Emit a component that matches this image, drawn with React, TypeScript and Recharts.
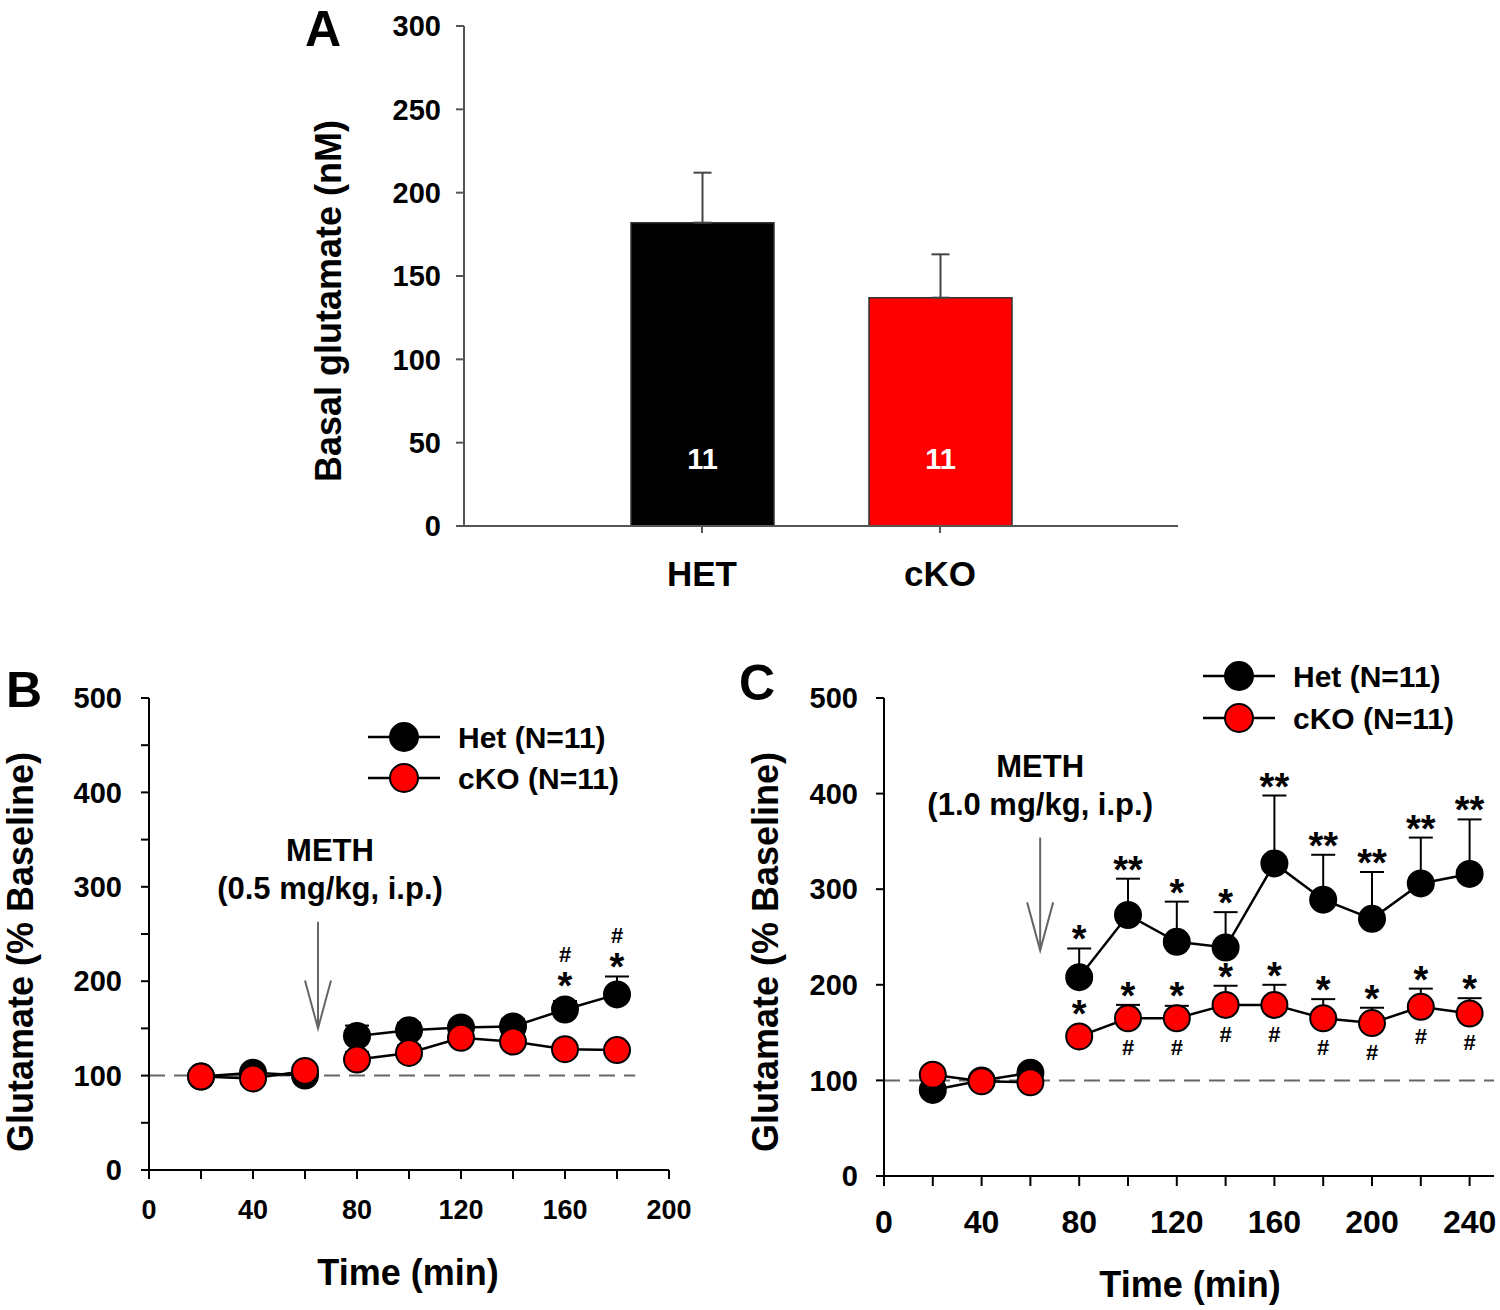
import React from 'react';
import {
  ComposedChart,
  Bar,
  Cell,
  Line,
  XAxis,
  YAxis,
  ErrorBar,
  LabelList,
  Label,
  ReferenceLine,
  ReferenceDot,
} from 'recharts';

const FONT = '"Liberation Sans", Arial, Helvetica, sans-serif';

// ---- panel A: basal glutamate ----
const groups = ['HET', 'cKO'];
const basalMean = [182, 137];
const basalSem = [30, 26];
const basalN = ['11', '11'];
const groupFill = ['#000000', '#ff0000'];
const yTicksA = [0, 50, 100, 150, 200, 250, 300];

// ---- panel B: 0.5 mg/kg METH ----
const timeB = [20, 40, 60, 80, 100, 120, 140, 160, 180];
const hetB = [99, 103, 100, 142, 148, 151, 152, 170, 186];
const hetSemB = [4, 5, 5, 11, 8, 7, 8, 9, 19];
const hetStarB = ['', '', '', '', '', '', '', '*', '*'];
const hetHashB = ['', '', '', '', '', '', '', '#', '#'];
const ckoB = [99, 97, 105, 117, 124, 140, 136, 128, 127];
const ckoSemB = [4, 4, 5, 8, 8, 9, 8, 7, 7];
const xTicksB = [0, 20, 40, 60, 80, 100, 120, 140, 160, 180, 200];
const yTicksB = [0, 50, 100, 150, 200, 250, 300, 350, 400, 450, 500];

// ---- panel C: 1.0 mg/kg METH ----
const timeC = [20, 40, 60, 80, 100, 120, 140, 160, 180, 200, 220, 240];
const hetC = [90, 100, 108, 208, 273, 245, 239, 327, 289, 269, 306, 316];
const hetSemC = [5, 5, 5, 30, 38, 42, 37, 71, 47, 49, 48, 57];
const hetStarC = ['', '', '', '*', '**', '*', '*', '**', '**', '**', '**', '**'];
const ckoC = [106, 99, 98, 146, 165, 165, 179, 179, 165, 160, 177, 170];
const ckoSemC = [4, 4, 4, 6, 14, 13, 20, 21, 20, 16, 19, 16];
const ckoStarC = ['', '', '', '*', '*', '*', '*', '*', '*', '*', '*', '*'];
const ckoHashC = ['', '', '', '', '#', '#', '#', '#', '#', '#', '#', '#'];
const xTicksC = [0, 20, 40, 60, 80, 100, 120, 140, 160, 180, 200, 220, 240];
const yTicksC = [0, 100, 200, 300, 400, 500];

const seriesNames = ['Het (N=11)', 'cKO (N=11)'];
const seriesFill = ['#000000', '#ff0000'];
const methTime = [65, 64];
const methDose = ['(0.5 mg/kg, i.p.)', '(1.0 mg/kg, i.p.)'];
const arrowTop = [263, 354];
const arrowTip = [150, 236];
const baseline = 100;

type Row = { t: number; mean: number; sem: number; star: string; hash: string };

const none = (n: number) => Array.from({ length: n }, () => '');

const buildRows = (
  time: number[],
  mean: number[],
  sem: number[],
  star: string[],
  hash: string[]
): Row[] => time.map((t, i) => ({ t, mean: mean[i], sem: sem[i], star: star[i], hash: hash[i] }));

const basalRows = groups.map((g, i) => ({
  slot: i + 1,
  mean: basalMean[i],
  semRange: [0, basalSem[i]],
  n: basalN[i],
}));

const rowsHetB = buildRows(timeB, hetB, hetSemB, hetStarB, hetHashB);
const rowsCkoB = buildRows(timeB, ckoB, ckoSemB, none(timeB.length), none(timeB.length));
const rowsHetC = buildRows(timeC, hetC, hetSemC, hetStarC, none(timeC.length));
const rowsCkoC = buildRows(timeC, ckoC, ckoSemC, ckoStarC, ckoHashC);

const bold = { fontWeight: 'bold' as const, fontFamily: FONT, fill: '#000' };

const pointXY = (p: any) => {
  const vb = p.viewBox || {};
  const x = typeof p.x === 'number' ? p.x : vb.x + (vb.width || 0) / 2;
  const y = typeof p.y === 'number' ? p.y : vb.y;
  return { x, y };
};

const StarLabel = (p: any) => {
  if (!p.value) return null;
  const { x, y } = pointXY(p);
  return (
    <text x={x} y={y + 4} textAnchor="middle" fontSize={38} {...bold}>
      {p.value}
    </text>
  );
};

const HashAbove = (p: any) => {
  if (!p.value) return null;
  const { x, y } = pointXY(p);
  return (
    <text x={x} y={y - 33} textAnchor="middle" fontSize={22} {...bold}>
      {p.value}
    </text>
  );
};

const HashBelow = (p: any) => {
  if (!p.value) return null;
  const { x, y } = pointXY(p);
  return (
    <text x={x} y={y + 37} textAnchor="middle" fontSize={22} {...bold}>
      {p.value}
    </text>
  );
};

const NLabel = (p: any) => {
  const vb = p.viewBox || p;
  return (
    <text
      x={vb.x + vb.width / 2}
      y={vb.y + vb.height - 67}
      textAnchor="middle"
      dominantBaseline="central"
      fontSize={29}
      fontWeight="bold"
      fontFamily={FONT}
      fill="#fff"
    >
      {p.value}
    </text>
  );
};

const Title = ({ x, y, text, size, rotate }: { x: number; y: number; text: string; size: number; rotate?: boolean }) => (
  <text
    x={x}
    y={y}
    transform={rotate ? `rotate(-90 ${x} ${y})` : undefined}
    textAnchor="middle"
    dominantBaseline="central"
    fontSize={size}
    {...bold}
  >
    {text}
  </text>
);

const SeriesKey = ({ x, y, gap }: { x: number; y: number; gap: number }) => (
  <g>
    {seriesNames.map((name, i) => (
      <g key={name}>
        <line x1={x} x2={x + 72} y1={y + i * gap} y2={y + i * gap} stroke="#000" strokeWidth={2.5} />
        <circle cx={x + 36} cy={y + i * gap} r={14} fill={seriesFill[i]} stroke="#000" strokeWidth={2} />
        <text x={x + 90} y={y + i * gap} dominantBaseline="central" fontSize={30} {...bold}>
          {name}
        </text>
      </g>
    ))}
  </g>
);

const seriesLines = (rows: Row[], fill: string, clear: number, key: string) => {
  const pre = rows.filter((r) => r.t < methTime[0]);
  const post = rows.filter((r) => r.t >= methTime[0]);
  const dot = { r: 13, fill, stroke: '#000', strokeWidth: 2 };
  return [pre, post].map((seg, s) => (
    <Line
      key={`${key}-${s}`}
      data={seg}
      dataKey="mean"
      stroke="#000"
      strokeWidth={2.5}
      dot={dot}
      activeDot={false}
      isAnimationActive={false}
    >
      <ErrorBar dataKey={(r: Row) => [0, r.sem]} direction="y" width={12} stroke="#000" strokeWidth={2} />
    </Line>
  )).concat([
    <Line
      key={`${key}-anno`}
      data={rows}
      dataKey={(r: Row) => Math.max(r.mean + r.sem, r.mean + clear)}
      stroke="none"
      dot={false}
      activeDot={false}
      isAnimationActive={false}
    >
      <LabelList dataKey="star" content={StarLabel} />
      <LabelList dataKey="hash" content={HashAbove} />
    </Line>,
  ]);
};

const hashBelowLine = (rows: Row[], key: string) => (
  <Line
    key={key}
    data={rows}
    dataKey="mean"
    stroke="none"
    dot={false}
    activeDot={false}
    isAnimationActive={false}
  >
    <LabelList dataKey="hash" content={HashBelow} />
  </Line>
);

const Arrow = (i: number, dx: number) => [
  <ReferenceLine
    key={`shaft-${i}`}
    segment={[
      { x: methTime[i], y: arrowTop[i] },
      { x: methTime[i], y: arrowTip[i] },
    ]}
    stroke="#666"
    strokeWidth={2}
  />,
  <ReferenceDot
    key={`head-${i}`}
    x={methTime[i]}
    y={arrowTip[i]}
    r={1}
    shape={(p: any) => (
      <path
        d={`M${p.cx - 13},${p.cy - 48} L${p.cx},${p.cy} L${p.cx + 13},${p.cy - 48}`}
        fill="none"
        stroke="#666"
        strokeWidth={2}
      />
    )}
  />,
  <ReferenceDot
    key={`text-${i}`}
    x={methTime[i]}
    y={arrowTop[i]}
    r={1}
    shape={(p: any) => (
      <g>
        <text x={p.cx + dx} y={p.cy - 71} textAnchor="middle" dominantBaseline="central" fontSize={31} {...bold}>
          METH
        </text>
        <text x={p.cx + dx} y={p.cy - 33} textAnchor="middle" dominantBaseline="central" fontSize={31} {...bold}>
          {methDose[i]}
        </text>
      </g>
    )}
  />,
];

const axisLine = { stroke: '#000', strokeWidth: 2 };

const PanelA = () => (
  <ComposedChart width={1500} height={620} data={basalRows} margin={{ top: 26, right: 322, bottom: 24, left: 364 }}>
    <XAxis
      dataKey="slot"
      type="number"
      domain={[0, groups.length + 1]}
      ticks={basalRows.map((r) => r.slot)}
      tickFormatter={(v: number) => groups[v - 1] ?? ''}
      interval={0}
      height={70}
      axisLine={{ stroke: '#555', strokeWidth: 2 }}
      tickLine={{ stroke: '#555', strokeWidth: 2 }}
      tickSize={7}
      tickMargin={28}
      tick={{ fontSize: 35, ...bold }}
    />
    <YAxis
      type="number"
      domain={[0, 300]}
      ticks={yTicksA}
      interval={0}
      width={100}
      axisLine={{ stroke: '#555', strokeWidth: 2 }}
      tickLine={{ stroke: '#555', strokeWidth: 2 }}
      tickSize={8}
      tickMargin={15}
      tick={{ fontSize: 29, ...bold }}
    >
      <Label content={() => <Title x={328} y={301} text="Basal glutamate (nM)" size={36} rotate />} />
      <Label content={() => <Title x={323} y={29} text="A" size={50} />} />
    </YAxis>
    <Bar dataKey="mean" barSize={143} stroke="#333" strokeWidth={1.5} isAnimationActive={false}>
      {basalRows.map((r, i) => (
        <Cell key={r.slot} fill={groupFill[i]} />
      ))}
      <ErrorBar dataKey="semRange" direction="y" width={9} stroke="#444" strokeWidth={2} />
      <LabelList dataKey="n" content={NLabel} />
    </Bar>
  </ComposedChart>
);

const PanelB = () => (
  <ComposedChart width={740} height={670} margin={{ top: 58, right: 71, bottom: 30, left: 39 }}>
    <XAxis
      dataKey="t"
      type="number"
      domain={[0, 200]}
      ticks={xTicksB}
      interval={0}
      tickFormatter={(v: number) => (v % 40 === 0 ? String(v) : '')}
      height={110}
      axisLine={axisLine}
      tickLine={axisLine}
      tickSize={9}
      tickMargin={21}
      tick={{ fontSize: 27, ...bold }}
    >
      <Label content={() => <Title x={408} y={632} text="Time (min)" size={36} />} />
      <Label content={() => <SeriesKey x={368} y={97} gap={41} />} />
    </XAxis>
    <YAxis
      type="number"
      domain={[0, 500]}
      ticks={yTicksB}
      interval={0}
      tickFormatter={(v: number) => (v % 100 === 0 ? String(v) : '')}
      width={110}
      axisLine={axisLine}
      tickLine={axisLine}
      tickSize={8}
      tickMargin={19}
      tick={{ fontSize: 29, ...bold }}
    >
      <Label content={() => <Title x={20} y={312} text="Glutamate (% Baseline)" size={36} rotate />} />
      <Label content={() => <Title x={24} y={50} text="B" size={50} />} />
    </YAxis>
    <ReferenceLine
      segment={[
        { x: 0, y: baseline },
        { x: 187, y: baseline },
      ]}
      stroke="#666"
      strokeWidth={2}
      strokeDasharray="16 9"
    />
    {Arrow(0, 12)}
    {seriesLines(rowsHetB, seriesFill[0], 15, 'hetB')}
    {seriesLines(rowsCkoB, seriesFill[1], 15, 'ckoB')}
  </ComposedChart>
);

const PanelC = () => (
  <ComposedChart width={760} height={670} margin={{ top: 58, right: 6, bottom: 20, left: 34 }}>
    <XAxis
      dataKey="t"
      type="number"
      domain={[0, 250]}
      ticks={xTicksC}
      interval={0}
      tickFormatter={(v: number) => (v % 40 === 0 ? String(v) : '')}
      height={114}
      axisLine={axisLine}
      tickLine={axisLine}
      tickSize={10}
      tickMargin={24}
      tick={{ fontSize: 32, ...bold }}
    >
      <Label content={() => <Title x={450} y={644} text="Time (min)" size={36} />} />
      <Label content={() => <SeriesKey x={463} y={36} gap={42} />} />
    </XAxis>
    <YAxis
      type="number"
      domain={[0, 500]}
      ticks={yTicksC}
      interval={0}
      width={110}
      axisLine={axisLine}
      tickLine={axisLine}
      tickSize={8}
      tickMargin={18}
      tick={{ fontSize: 29, ...bold }}
    >
      <Label content={() => <Title x={25} y={312} text="Glutamate (% Baseline)" size={36} rotate />} />
      <Label content={() => <Title x={17} y={43} text="C" size={50} />} />
    </YAxis>
    <ReferenceLine
      segment={[
        { x: 0, y: baseline },
        { x: 250, y: baseline },
      ]}
      stroke="#666"
      strokeWidth={2}
      strokeDasharray="16 9"
    />
    {Arrow(1, 0)}
    {seriesLines(rowsHetC, seriesFill[0], 14, 'hetC')}
    {seriesLines(rowsCkoC.map((r) => ({ ...r, hash: '' })), seriesFill[1], 14, 'ckoC')}
    {hashBelowLine(rowsCkoC, 'ckoC-hash')}
  </ComposedChart>
);

export default function App() {
  return (
    <div style={{ position: 'absolute', left: 0, top: 0, width: 1500, height: 1310, background: '#fff' }}>
      <div style={{ position: 'absolute', left: 0, top: 0 }}>
        <PanelA />
      </div>
      <div style={{ position: 'absolute', left: 0, top: 640 }}>
        <PanelB />
      </div>
      <div style={{ position: 'absolute', left: 740, top: 640 }}>
        <PanelC />
      </div>
    </div>
  );
}
